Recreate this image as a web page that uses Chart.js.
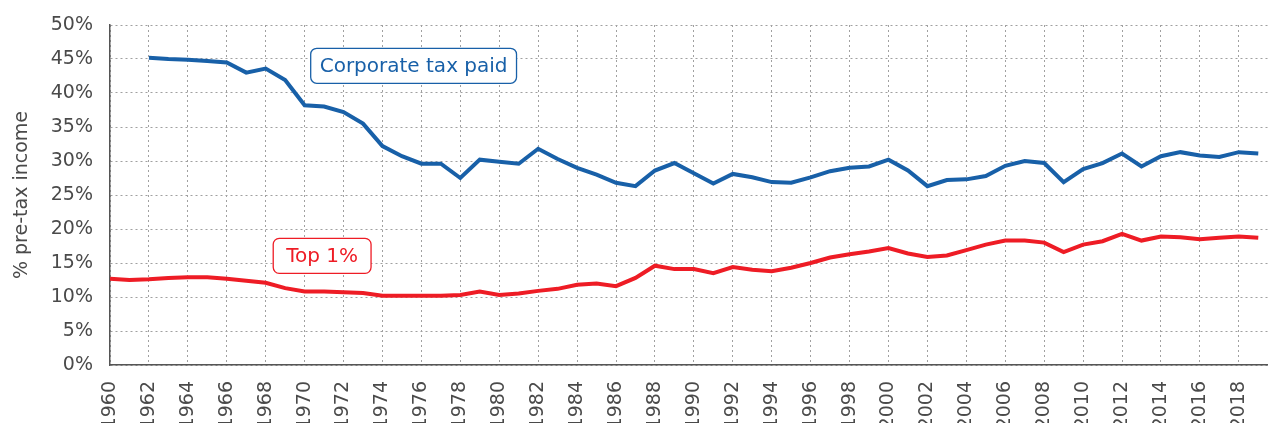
<!DOCTYPE html>
<html>
<head>
<meta charset="utf-8">
<script src="https://cdn.jsdelivr.net/npm/chart.js@4/dist/chart.umd.min.js"></script>
<style>
  html, body { margin: 0; padding: 0; background: #fff; }
  #wrap { width: 1268px; height: 423px; }
</style>
</head>
<body>
<div id="wrap"><canvas id="myChart"></canvas></div>
<script>
const years = [1960, 1961, 1962, 1963, 1964, 1965, 1966, 1967, 1968, 1969,
               1970, 1971, 1972, 1973, 1974, 1975, 1976, 1977, 1978, 1979,
               1980, 1981, 1982, 1983, 1984, 1985, 1986, 1987, 1988, 1989,
               1990, 1991, 1992, 1993, 1994, 1995, 1996, 1997, 1998, 1999,
               2000, 2001, 2002, 2003, 2004, 2005, 2006, 2007, 2008, 2009,
               2010, 2011, 2012, 2013, 2014, 2015, 2016, 2017, 2018, 2019];

// corporate tax paid, % of pre-tax income (series starts in 1962)
const corporateTax = [null, null, 45.2, 45.0, 44.9, 44.7, 44.5, 43.0, 43.6, 41.9,
                      38.2, 38.0, 37.2, 35.5, 32.2, 30.7, 29.6, 29.6, 27.5, 30.2,
                      29.9, 29.6, 31.8, 30.3, 29.0, 28.0, 26.8, 26.3, 28.6, 29.7,
                      28.2, 26.7, 28.1, 27.6, 26.9, 26.8, 27.6, 28.5, 29.0, 29.2,
                      30.2, 28.6, 26.3, 27.2, 27.3, 27.8, 29.3, 30.0, 29.7, 26.9,
                      28.8, 29.7, 31.1, 29.2, 30.7, 31.3, 30.8, 30.6, 31.3, 31.1];

// top 1%, % of pre-tax income
const top1 = [12.7, 12.5, 12.6, 12.8, 12.9, 12.9, 12.7, 12.4, 12.1, 11.3,
              10.8, 10.8, 10.7, 10.6, 10.2, 10.2, 10.2, 10.2, 10.3, 10.8,
              10.3, 10.5, 10.9, 11.2, 11.8, 12.0, 11.6, 12.8, 14.6, 14.1,
              14.1, 13.5, 14.4, 14.0, 13.8, 14.3, 15.0, 15.8, 16.3, 16.7,
              17.2, 16.4, 15.9, 16.1, 16.9, 17.7, 18.3, 18.3, 18.0, 16.6,
              17.7, 18.2, 19.3, 18.3, 18.9, 18.8, 18.5, 18.7, 18.9, 18.7];

const tickYears = [1960, 1962, 1964, 1966, 1968, 1970, 1972, 1974, 1976, 1978,
                   1980, 1982, 1984, 1986, 1988, 1990, 1992, 1994, 1996, 1998,
                   2000, 2002, 2004, 2006, 2008, 2010, 2012, 2014, 2016, 2018];

const BLUE = '#1860a8';
const RED = '#ee1c25';
const FONT = "'DejaVu Sans', sans-serif";

// boxed series labels, anchored in data space
const seriesLabels = [
  { text: 'Corporate tax paid', x: 1975.6, y: 44.0, color: BLUE, padX: 9 },
  { text: 'Top 1%', x: 1970.9, y: 16.05, color: RED, padX: 13 }
];

const boxLabels = {
  id: 'boxLabels',
  afterDatasetsDraw(chart) {
    const { ctx, scales } = chart;
    ctx.save();
    ctx.font = '20px ' + FONT;
    ctx.textAlign = 'center';
    ctx.textBaseline = 'middle';
    seriesLabels.forEach(l => {
      const cx = scales.x.getPixelForValue(l.x);
      const cy = scales.y.getPixelForValue(l.y);
      const w = ctx.measureText(l.text).width + l.padX * 2;
      const h = 35;
      ctx.beginPath();
      ctx.roundRect(cx - w / 2, cy - h / 2, w, h, 6);
      ctx.fillStyle = '#fff';
      ctx.fill();
      ctx.lineWidth = 1.3;
      ctx.strokeStyle = l.color;
      ctx.stroke();
      ctx.fillStyle = l.color;
      ctx.fillText(l.text, cx, cy + 1);
    });
    ctx.restore();
  }
};

const ctx = document.getElementById('myChart').getContext('2d');

new Chart(ctx, {
  type: 'line',
  data: {
    datasets: [
      {
        label: 'Corporate tax paid',
        data: years.map((yr, i) => ({ x: yr, y: corporateTax[i] })),
        borderColor: BLUE,
        borderWidth: 4,
        pointRadius: 0,
        spanGaps: false
      },
      {
        label: 'Top 1%',
        data: years.map((yr, i) => ({ x: yr, y: top1[i] })),
        borderColor: RED,
        borderWidth: 4,
        pointRadius: 0
      }
    ]
  },
  options: {
    responsive: true,
    maintainAspectRatio: false,
    animation: false,
    layout: { padding: { top: 25, right: 0, left: 0, bottom: 0 } },
    plugins: {
      legend: { display: false },
      tooltip: { enabled: false }
    },
    scales: {
      x: {
        type: 'linear',
        min: 1960,
        max: 2019.5,
        afterBuildTicks: scale => {
          scale.ticks = tickYears.map(v => ({ value: v }));
        },
        afterFit: scale => {
          scale.height = 58;
          scale.paddingLeft = 0;
          scale.paddingRight = 0;
        },
        grid: { color: '#a0a0a0', lineWidth: 1, drawTicks: false },
        border: { display: true, color: '#555', width: 1.5, dash: [2, 3] },
        ticks: {
          minRotation: 90,
          maxRotation: 90,
          padding: 16,
          autoSkip: false,
          color: '#4a4a4a',
          font: { family: FONT, size: 19 },
          callback: v => String(v)
        }
      },
      y: {
        min: 0,
        max: 50,
        afterFit: scale => {
          scale.width = 110;
          scale.paddingTop = 0;
        },
        grid: { color: '#a0a0a0', lineWidth: 1, drawTicks: false },
        border: { display: true, color: '#555', width: 1.5, dash: [2, 3] },
        ticks: {
          stepSize: 5,
          padding: 17,
          color: '#4a4a4a',
          font: { family: FONT, size: 19 },
          callback: v => v + '%'
        },
        title: {
          display: true,
          text: '% pre-tax income',
          color: '#4a4a4a',
          padding: { top: 11 },
          font: { family: FONT, size: 19 }
        }
      }
    }
  },
  plugins: [boxLabels]
});
</script>
</body>
</html>
